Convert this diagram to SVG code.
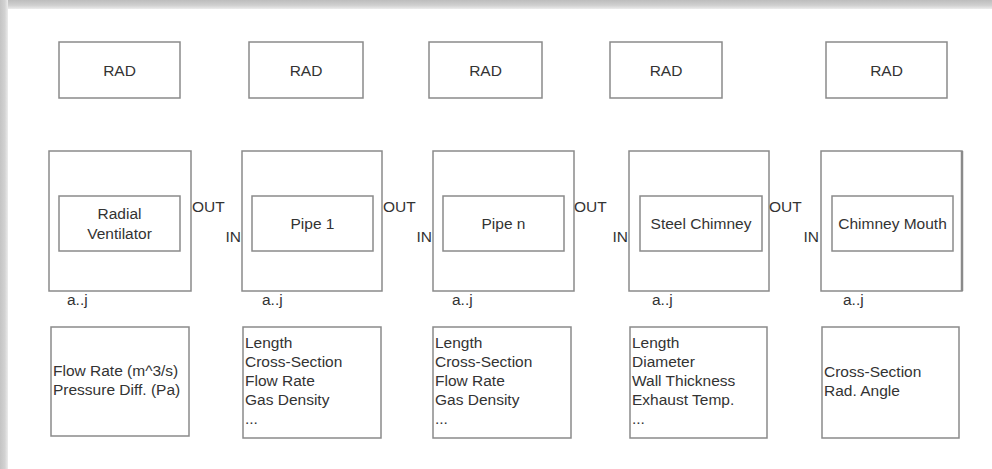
<svg xmlns="http://www.w3.org/2000/svg" width="992" height="469" viewBox="0 0 992 469">
<defs>
<linearGradient id="gTop" x1="0" y1="0" x2="0" y2="1">
<stop offset="0" stop-color="#bdbdbd"/>
<stop offset="0.6" stop-color="#d0d0d0"/>
<stop offset="1" stop-color="#ececec"/>
</linearGradient>
<linearGradient id="gLeft" x1="0" y1="0" x2="1" y2="0">
<stop offset="0" stop-color="#c4c4c4"/>
<stop offset="0.6" stop-color="#d2d2d2"/>
<stop offset="1" stop-color="#ececec"/>
</linearGradient>
<style>
rect.b{fill:#ffffff;stroke:#8a8a8a;stroke-width:1.5}
text{font-family:"Liberation Sans",Arial,sans-serif;font-size:15.5px;fill:#333333}
text.c{text-anchor:middle}
text.r{text-anchor:end}
</style>
</defs>
<rect x="0" y="0" width="992" height="469" fill="#ffffff"/>
<rect x="0" y="0" width="992" height="9" fill="url(#gTop)"/>
<rect x="0" y="0" width="8" height="469" fill="url(#gLeft)"/>

<g id="rad1"><rect class="b" x="59" y="42" width="121" height="56"/><text class="c" x="119.5" y="76">RAD</text></g>
<g id="rad2"><rect class="b" x="249" y="42" width="114" height="56"/><text class="c" x="306" y="76">RAD</text></g>
<g id="rad3"><rect class="b" x="429" y="42" width="113" height="56"/><text class="c" x="485.5" y="76">RAD</text></g>
<g id="rad4"><rect class="b" x="610" y="42" width="112" height="56"/><text class="c" x="666" y="76">RAD</text></g>
<g id="rad5"><rect class="b" x="826" y="42" width="121" height="56"/><text class="c" x="886.5" y="76">RAD</text></g>

<g id="comp1">
<rect class="b" x="49" y="151" width="142" height="140"/>
<rect class="b" x="59" y="196" width="121" height="55"/>
<text class="c" x="119.5" y="219">Radial</text>
<text class="c" x="119.5" y="239">Ventilator</text>
<text x="192" y="212">OUT</text>
<text x="67" y="305">a..j</text>
</g>
<g id="comp2">
<rect class="b" x="242" y="151" width="140" height="140"/>
<rect class="b" x="252" y="196" width="121" height="55"/>
<text class="c" x="312.5" y="229">Pipe 1</text>
<text class="r" x="241" y="242">IN</text>
<text x="383" y="212">OUT</text>
<text x="262" y="305">a..j</text>
</g>
<g id="comp3">
<rect class="b" x="433" y="151" width="141" height="140"/>
<rect class="b" x="443" y="196" width="121" height="55"/>
<text class="c" x="503.5" y="229">Pipe n</text>
<text class="r" x="432" y="242">IN</text>
<text x="574" y="212">OUT</text>
<text x="452" y="305">a..j</text>
</g>
<g id="comp4">
<rect class="b" x="629" y="151" width="140" height="140"/>
<rect class="b" x="640" y="196" width="122" height="55"/>
<text class="c" x="701" y="229">Steel Chimney</text>
<text class="r" x="628" y="242">IN</text>
<text x="769" y="212">OUT</text>
<text x="652" y="305">a..j</text>
</g>
<g id="comp5">
<rect class="b" x="821" y="151" width="141" height="140"/>
<line x1="962" y1="151" x2="962" y2="291" stroke="#8a8a8a" stroke-width="2.5"/>
<rect class="b" x="832" y="196" width="121" height="55"/>
<text class="c" x="892.5" y="229">Chimney Mouth</text>
<text class="r" x="819" y="242">IN</text>
<text x="843" y="305">a..j</text>
</g>

<g id="params1">
<rect class="b" x="51" y="327" width="138" height="109"/>
<text x="53" y="376">Flow Rate (m^3/s)</text>
<text x="53" y="395">Pressure Diff. (Pa)</text>
</g>
<g id="params2">
<rect class="b" x="243" y="327" width="138" height="111"/>
<text x="245" y="348">Length</text>
<text x="245" y="367">Cross-Section</text>
<text x="245" y="386">Flow Rate</text>
<text x="245" y="405">Gas Density</text>
<text x="245" y="424">...</text>
</g>
<g id="params3">
<rect class="b" x="433" y="327" width="138" height="111"/>
<text x="435" y="348">Length</text>
<text x="435" y="367">Cross-Section</text>
<text x="435" y="386">Flow Rate</text>
<text x="435" y="405">Gas Density</text>
<text x="435" y="424">...</text>
</g>
<g id="params4">
<rect class="b" x="630" y="327" width="137" height="111"/>
<text x="632" y="348">Length</text>
<text x="632" y="367">Diameter</text>
<text x="632" y="386">Wall Thickness</text>
<text x="632" y="405">Exhaust Temp.</text>
<text x="632" y="424">...</text>
</g>
<g id="params5">
<rect class="b" x="822" y="327" width="137" height="111"/>
<text x="824" y="377">Cross-Section</text>
<text x="824" y="396">Rad. Angle</text>
</g>

<g id="connectors"></g>
</svg>
